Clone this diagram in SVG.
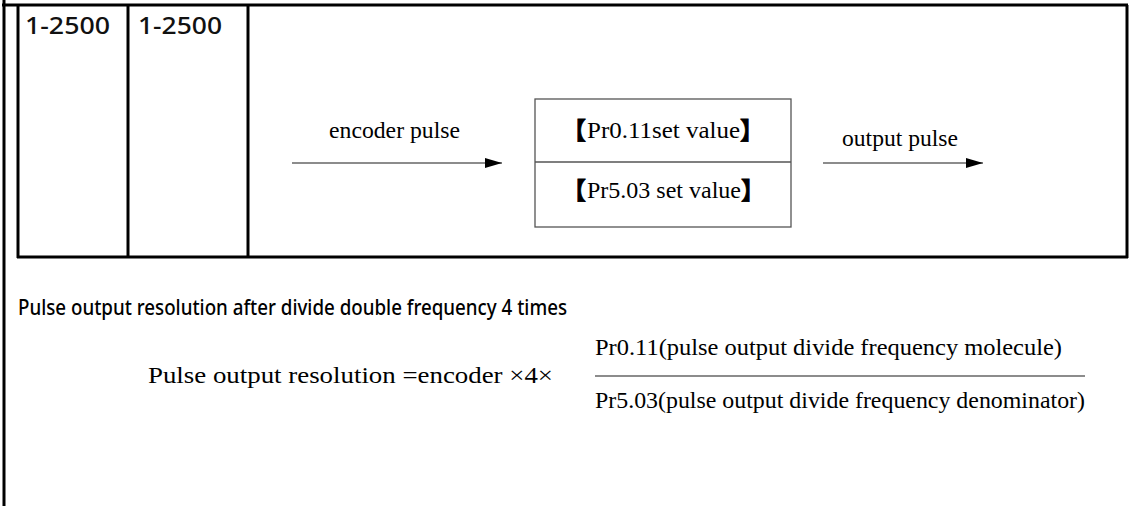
<svg xmlns="http://www.w3.org/2000/svg" width="1134" height="506" viewBox="0 0 1134 506">
<style>
.frame{stroke:#000;stroke-width:3;fill:none}
.thin{stroke:#555;stroke-width:1.3;fill:none}
.conn{stroke:#666;stroke-width:1.5;fill:none}
.ser{font-family:"Liberation Serif","Noto Sans CJK SC",serif;font-size:23px;fill:#000}
.bra{font-family:"Noto Sans CJK SC",sans-serif;font-weight:bold;font-size:24px;fill:#000;stroke:#000;stroke-width:0.8}
.sans{font-family:"Noto Sans","Liberation Sans",sans-serif;font-size:21px;font-weight:500;fill:#000}
.cell{font-family:"Noto Sans","Liberation Sans",sans-serif;font-size:23px;font-weight:500;fill:#111}
</style>
<defs>
<marker id="ah" viewBox="0 0 17 10" refX="17" refY="5" markerWidth="17" markerHeight="10" markerUnits="userSpaceOnUse" orient="auto"><path d="M0,0 L17,5 L0,10 z" fill="#000"/></marker>
</defs>
<g id="frame">
<line class="frame" x1="4" y1="0" x2="4" y2="506"/>
<line class="frame" x1="2" y1="5" x2="1128" y2="5"/>
<line class="frame" x1="1127" y1="5" x2="1127" y2="258"/>
<line class="frame" x1="18" y1="5" x2="18" y2="258"/>
<line class="frame" x1="128" y1="5" x2="128" y2="258"/>
<line class="frame" x1="248" y1="5" x2="248" y2="258"/>
<line class="frame" x1="17" y1="257" x2="1128" y2="257"/>
</g>
<g id="cell1"><text class="cell" x="25" y="34" textLength="85" lengthAdjust="spacingAndGlyphs">1-2500</text></g>
<g id="cell2"><text class="cell" x="138" y="34" textLength="84" lengthAdjust="spacingAndGlyphs">1-2500</text></g>
<g id="box">
<rect class="thin" x="535" y="99" width="256" height="128"/>
<line class="thin" x1="535" y1="162" x2="791" y2="162"/>
<text class="bra" x="562" y="139">【</text>
<text class="ser" x="587" y="138" textLength="153" lengthAdjust="spacingAndGlyphs">Pr0.11set value</text>
<text class="bra" x="740" y="139">】</text>
<text class="bra" x="562" y="199">【</text>
<text class="ser" x="587" y="198" textLength="154" lengthAdjust="spacingAndGlyphs">Pr5.03 set value</text>
<text class="bra" x="741" y="199">】</text>
</g>
<g id="connectors">
<line class="conn" x1="292" y1="163" x2="502" y2="163" marker-end="url(#ah)"/>
<line class="conn" x1="823" y1="163" x2="983" y2="163" marker-end="url(#ah)"/>
</g>
<g id="labels">
<text class="ser" x="329" y="138" textLength="131" lengthAdjust="spacingAndGlyphs">encoder pulse</text>
<text class="ser" x="842" y="146" textLength="116" lengthAdjust="spacingAndGlyphs">output pulse</text>
</g>
<g id="heading"><text class="sans" x="18" y="315" textLength="549" lengthAdjust="spacingAndGlyphs">Pulse output resolution after divide double frequency 4 times</text></g>
<g id="formula">
<text class="ser" x="148" y="383" textLength="405" lengthAdjust="spacingAndGlyphs">Pulse output resolution =encoder ×4×</text>
<text class="ser" x="595" y="355" textLength="467" lengthAdjust="spacingAndGlyphs">Pr0.11(pulse output divide frequency molecule)</text>
<line class="conn" x1="595" y1="376" x2="1085" y2="376"/>
<text class="ser" x="595" y="408" textLength="490" lengthAdjust="spacingAndGlyphs">Pr5.03(pulse output divide frequency denominator)</text>
</g>
</svg>
